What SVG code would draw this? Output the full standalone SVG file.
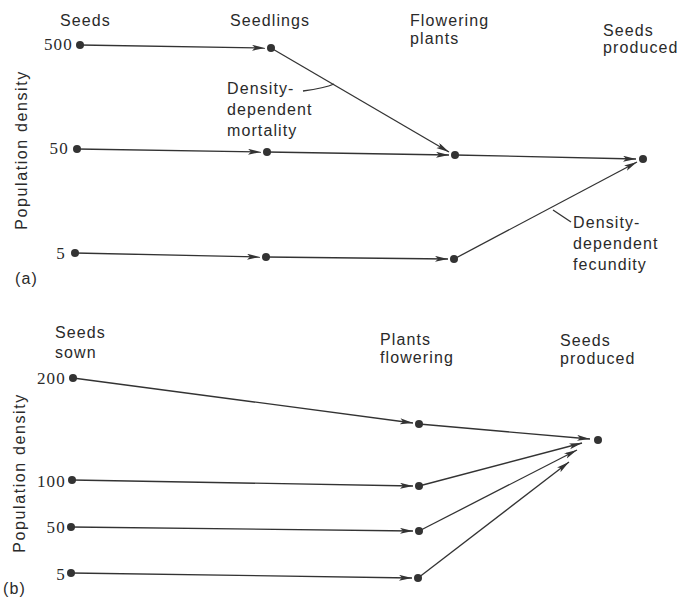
<svg xmlns="http://www.w3.org/2000/svg" width="685" height="607" viewBox="0 0 685 607">
<style>
.lbl{font-family:"Liberation Sans",Arial,sans-serif;font-size:16px;letter-spacing:1.1px;fill:#2a2a2a}
.num{font-family:"Liberation Serif","Times New Roman",serif;font-size:17px;letter-spacing:1.2px;fill:#2a2a2a;text-anchor:end}
.ax{font-family:"Liberation Sans",Arial,sans-serif;font-size:16px;letter-spacing:1.6px;fill:#2a2a2a;text-anchor:middle}
.ln{stroke:#333;stroke-width:1.3;fill:none}
.ar{stroke:#333;stroke-width:1.3;fill:none;marker-end:url(#ah)}
.nd{fill:#333}
</style>
<defs>
<marker id="ah" markerUnits="userSpaceOnUse" markerWidth="14" markerHeight="8" refX="13" refY="3" orient="auto">
<path d="M0,0 L13,3 L0,6 L3,3 z" fill="#333"/>
</marker>
</defs>
<rect width="685" height="607" fill="#fff"/>

<g id="panel-a-labels">
<text class="lbl" x="60" y="26">Seeds</text>
<text class="lbl" x="230" y="26">Seedlings</text>
<text class="lbl" x="410" y="26">Flowering</text>
<text class="lbl" x="410" y="44">plants</text>
<text class="lbl" x="603" y="36">Seeds</text>
<text class="lbl" x="603" y="53">produced</text>
<text class="num" x="73" y="50">500</text>
<text class="num" x="69" y="154">50</text>
<text class="num" x="66" y="259">5</text>
<text class="ax" transform="translate(27,150) rotate(-90)">Population density</text>
<text class="lbl" x="15" y="284">(a)</text>
<text class="lbl" x="227" y="94">Density-</text>
<text class="lbl" x="227" y="115">dependent</text>
<text class="lbl" x="227" y="136">mortality</text>
<text class="lbl" x="573" y="228">Density-</text>
<text class="lbl" x="573" y="249">dependent</text>
<text class="lbl" x="573" y="270">fecundity</text>
</g>

<g id="panel-b-labels">
<text class="lbl" x="55" y="338">Seeds</text>
<text class="lbl" x="55" y="358">sown</text>
<text class="lbl" x="380" y="345">Plants</text>
<text class="lbl" x="380" y="363">flowering</text>
<text class="lbl" x="560" y="346">Seeds</text>
<text class="lbl" x="560" y="364">produced</text>
<text class="num" x="66" y="384">200</text>
<text class="num" x="66" y="487">100</text>
<text class="num" x="66" y="533">50</text>
<text class="num" x="66" y="580">5</text>
<text class="ax" transform="translate(25,473) rotate(-90)">Population density</text>
<text class="lbl" x="3" y="594">(b)</text>
</g>

<g id="connectors">
<line class="ar" x1="80" y1="45" x2="265" y2="48"/>
<line class="ar" x1="271" y1="48" x2="449" y2="152"/>
<line class="ar" x1="77" y1="149" x2="261" y2="152"/>
<line class="ar" x1="267" y1="152" x2="449" y2="155"/>
<line class="ar" x1="455" y1="155" x2="636" y2="159"/>
<line class="ar" x1="75" y1="253" x2="260" y2="257"/>
<line class="ar" x1="266" y1="257" x2="448" y2="259"/>
<line class="ar" x1="454" y1="259" x2="637" y2="162"/>
<path class="ln" d="M303,91 Q325,88 334,84"/>
<path class="ln" d="M571,222 L553,210"/>

<line class="ar" x1="73" y1="378" x2="413" y2="423"/>
<line class="ar" x1="72" y1="480" x2="413" y2="486"/>
<line class="ar" x1="71" y1="527" x2="413" y2="531"/>
<line class="ar" x1="71" y1="573" x2="412" y2="578"/>
<line class="ar" x1="419" y1="424" x2="590" y2="439"/>
<line class="ar" x1="419" y1="486" x2="582" y2="443"/>
<line class="ar" x1="419" y1="531" x2="577" y2="450"/>
<line class="ar" x1="418" y1="578" x2="569" y2="462"/>
</g>

<g id="n-a-seeds-500"><circle class="nd" cx="80" cy="45" r="4"/></g>
<g id="n-a-seedlings-500"><circle class="nd" cx="271" cy="48" r="4"/></g>
<g id="n-a-seeds-50"><circle class="nd" cx="77" cy="149" r="4"/></g>
<g id="n-a-seedlings-50"><circle class="nd" cx="267" cy="152" r="4"/></g>
<g id="n-a-seeds-5"><circle class="nd" cx="75" cy="253" r="4"/></g>
<g id="n-a-seedlings-5"><circle class="nd" cx="266" cy="257" r="4"/></g>
<g id="n-a-flowering-50"><circle class="nd" cx="455" cy="155" r="4"/></g>
<g id="n-a-flowering-5"><circle class="nd" cx="454" cy="259" r="4"/></g>
<g id="n-a-produced"><circle class="nd" cx="643" cy="159" r="4"/></g>

<g id="n-b-sown-200"><circle class="nd" cx="73" cy="378" r="4"/></g>
<g id="n-b-sown-100"><circle class="nd" cx="72" cy="480" r="4"/></g>
<g id="n-b-sown-50"><circle class="nd" cx="71" cy="527" r="4"/></g>
<g id="n-b-sown-5"><circle class="nd" cx="71" cy="573" r="4"/></g>
<g id="n-b-flower-200"><circle class="nd" cx="419" cy="424" r="4"/></g>
<g id="n-b-flower-100"><circle class="nd" cx="419" cy="486" r="4"/></g>
<g id="n-b-flower-50"><circle class="nd" cx="419" cy="531" r="4"/></g>
<g id="n-b-flower-5"><circle class="nd" cx="418" cy="578" r="4"/></g>
<g id="n-b-produced"><circle class="nd" cx="598" cy="440" r="4"/></g>
</svg>
